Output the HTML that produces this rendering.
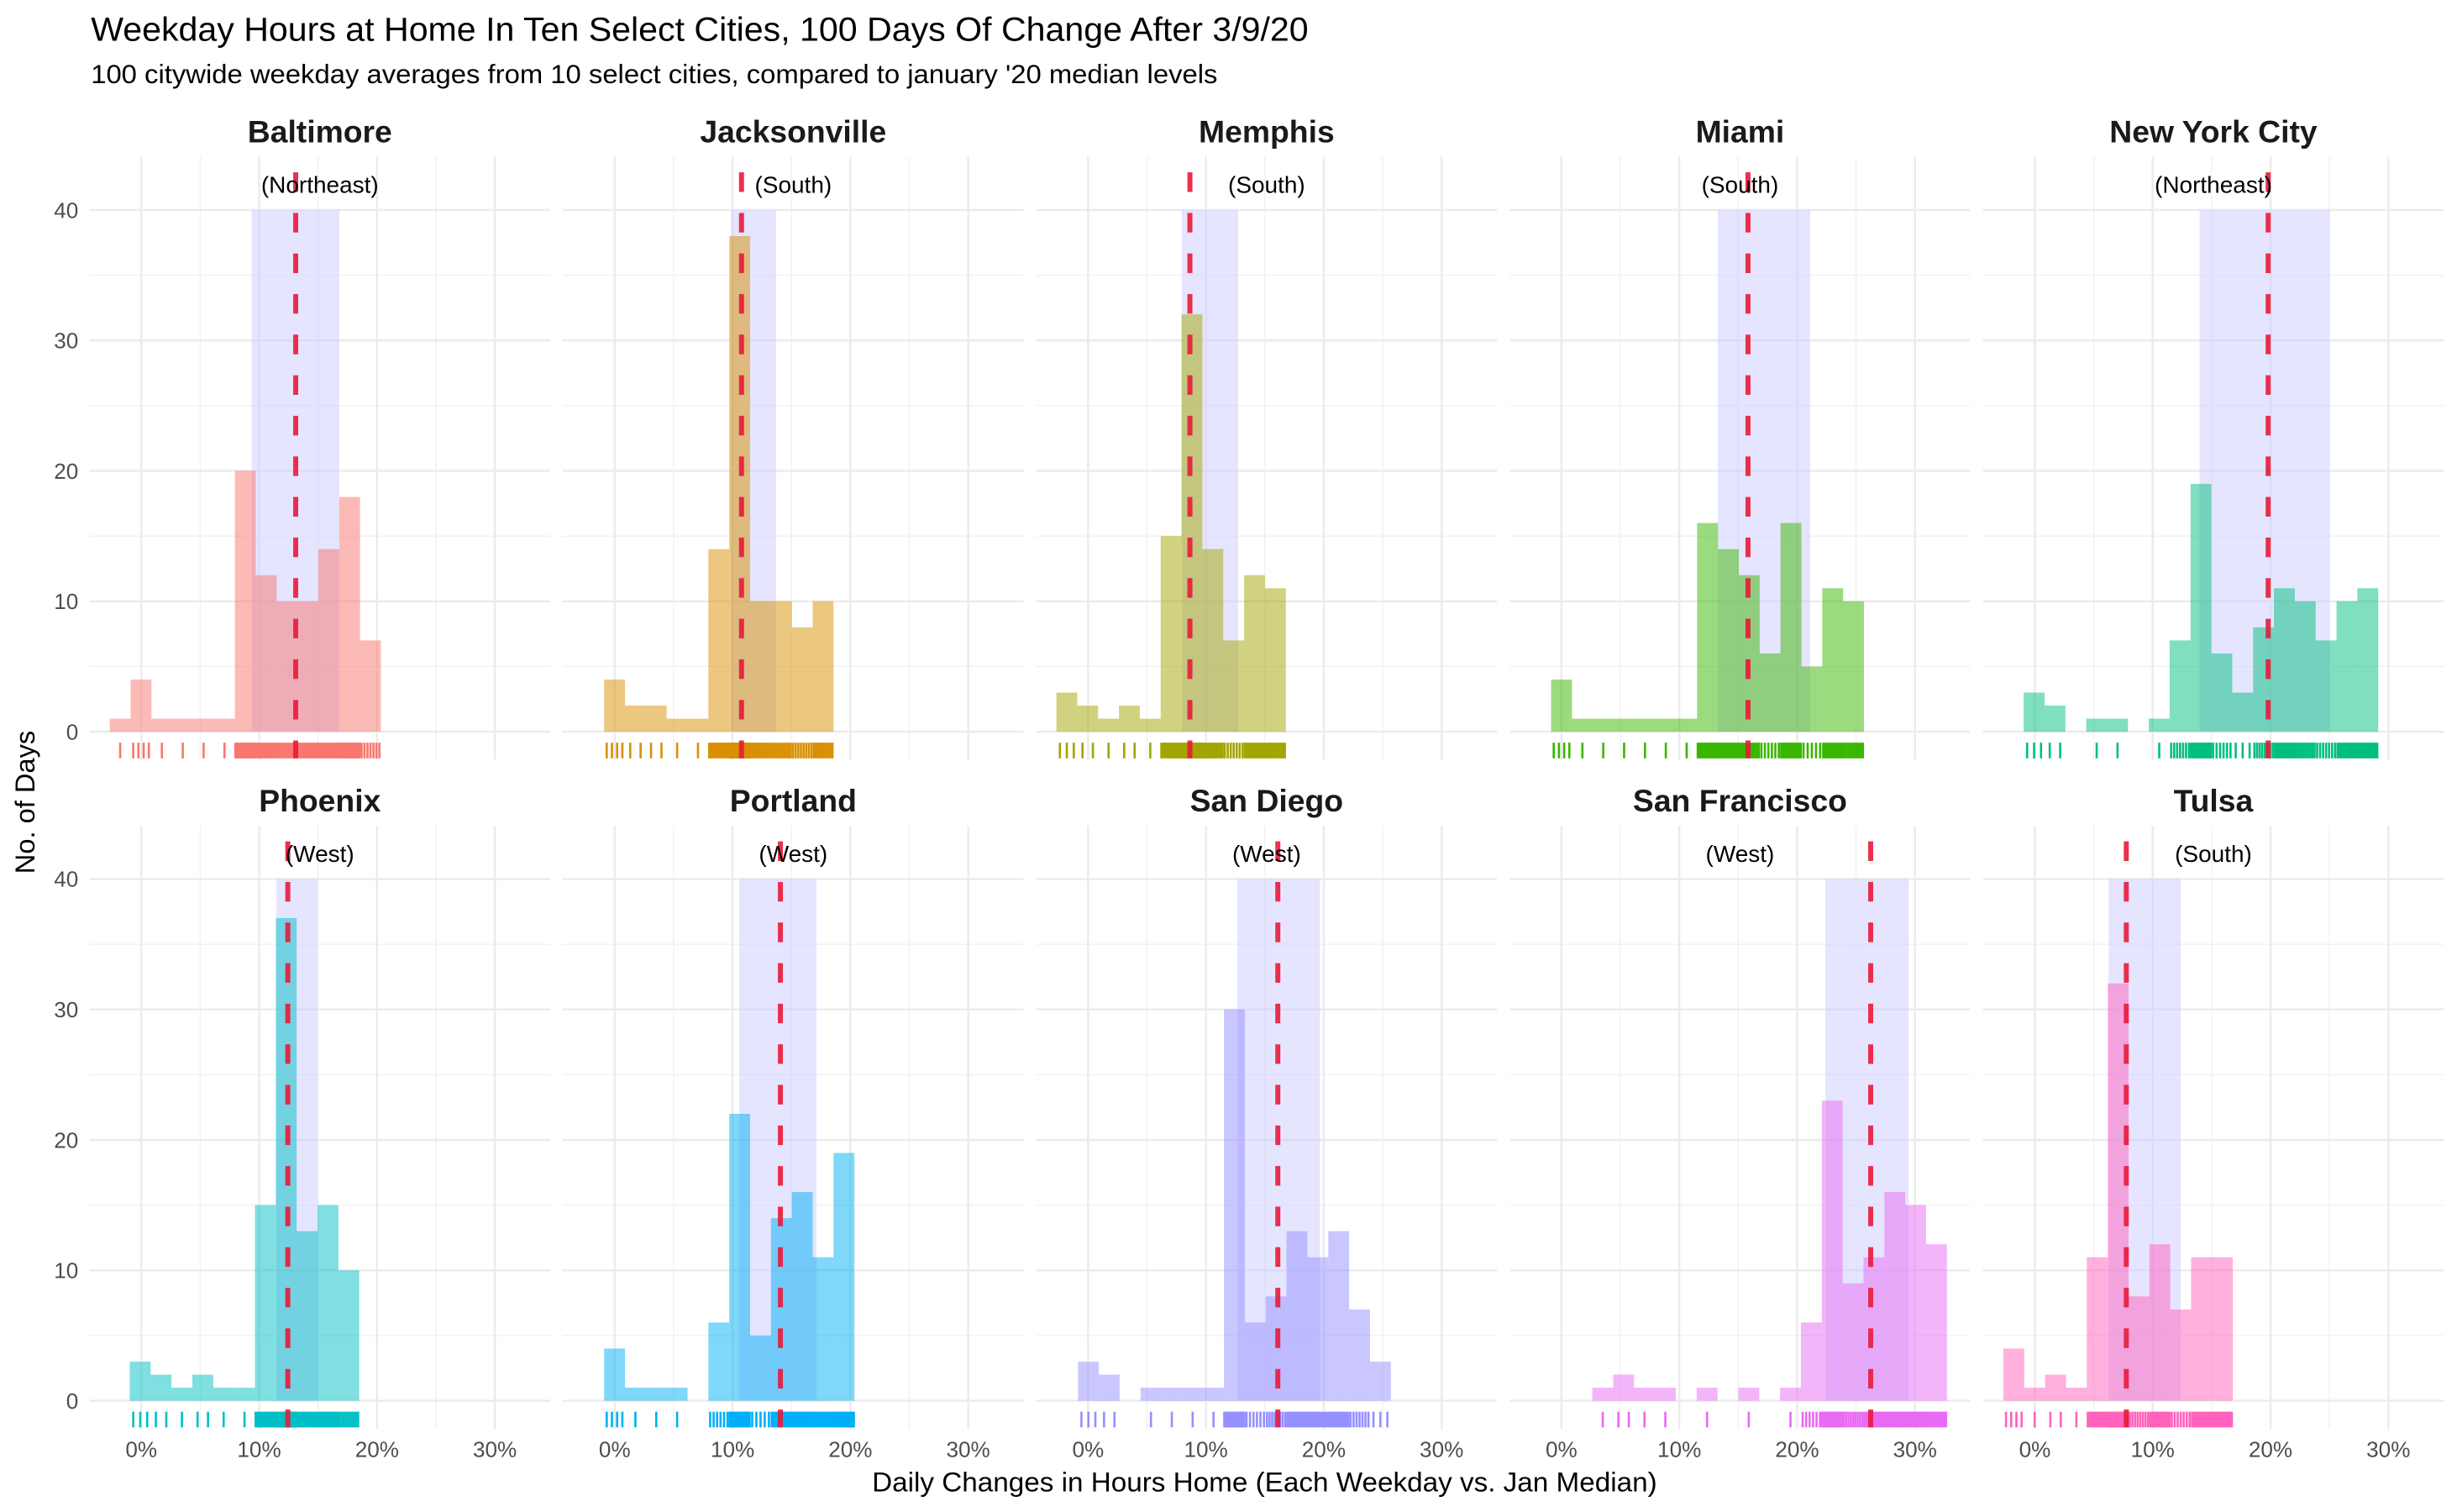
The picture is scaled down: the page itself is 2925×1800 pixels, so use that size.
<!DOCTYPE html>
<html><head><meta charset="utf-8"><style>
html,body{margin:0;padding:0;background:#fff;}
svg{display:block;font-family:"Liberation Sans",Arial,sans-serif;}
</style></head><body>
<svg id="chart" width="2925" height="1800" viewBox="0 0 1568 965" preserveAspectRatio="none" xmlns="http://www.w3.org/2000/svg">
<rect x="0" y="0" width="1568" height="965" fill="#ffffff"/>
<text x="58" y="26" font-size="21.5" fill="#000" textLength="777" lengthAdjust="spacingAndGlyphs">Weekday Hours at Home In Ten Select Cities, 100 Days Of Change After 3/9/20</text>
<text x="58" y="53" font-size="17" fill="#000" textLength="719" lengthAdjust="spacingAndGlyphs">100 citywide weekday averages from 10 select cities, compared to january '20 median levels</text>
<text transform="translate(22,512) rotate(-90)" text-anchor="middle" font-size="17.5" fill="#000">No. of Days</text>
<text x="807" y="952" text-anchor="middle" font-size="17.5" fill="#000" textLength="501" lengthAdjust="spacingAndGlyphs">Daily Changes in Hours Home (Each Weekday vs. Jan Median)</text>
<g id="panels"></g>
</svg>
<script>
const cities = ["Baltimore","Jacksonville","Memphis","Miami","New York City","Phoenix","Portland","San Diego","San Francisco","Tulsa"];
const regions = ["(Northeast)","(South)","(South)","(South)","(Northeast)","(West)","(West)","(West)","(West)","(South)"];
const colors = ["#F8766D","#D89000","#A3A500","#39B600","#00BF7D","#00BFC4","#00B0F6","#9590FF","#E76BF3","#FF62BC"];
const binStarts = [-2.68,-0.9,-2.69,-0.88,-0.95,-0.98,-0.9,-0.86,2.62,-2.67];
const binWidth = 1.77;
const countsBaltimore = [1,4,1,1,1,1,20,12,10,10,14,18,7];
const countsJacksonville = [4,2,2,1,1,14,38,10,10,8,10];
const countsMemphis = [3,2,1,2,1,15,32,14,7,12,11];
const countsMiami = [4,1,1,1,1,1,1,16,14,12,6,16,5,11,10];
const countsNYC = [3,2,0,1,1,0,1,7,19,6,3,8,11,10,7,10,11];
const countsPhoenix = [3,2,1,2,1,1,15,37,13,15,10];
const countsPortland = [4,1,1,1,0,6,22,5,14,16,11,19];
const countsSanDiego = [3,2,0,1,1,1,1,30,6,8,13,11,13,7,3];
const countsSanFrancisco = [1,2,1,1,0,1,0,1,0,1,6,23,9,11,16,15,12];
const countsTulsa = [4,1,2,1,11,32,8,12,7,11,11];
const counts = [countsBaltimore,countsJacksonville,countsMemphis,countsMiami,countsNYC,countsPhoenix,countsPortland,countsSanDiego,countsSanFrancisco,countsTulsa];
const medians = [13.1,10.76,8.64,15.83,19.8,12.43,14.06,16.1,26.24,7.76];
const bandLo = [9.36,9.86,7.95,13.26,13.98,11.45,10.57,12.68,22.4,6.26];
const bandHi = [16.79,13.7,12.74,21.1,25.0,14.98,17.13,19.67,29.45,12.38];
const bandTop = 40;
const xTicks = [0,10,20,30];
const xTickLabels = ["0%","10%","20%","30%"];
const yTicks = [0,10,20,30,40];
const yTickLabels = ["0","10","20","30","40"];

const NS = "http://www.w3.org/2000/svg";
const root = document.getElementById("panels");
const X_MIN = -4.4, X_MAX = 34.7;
const PX_PER_PCT = 7.52;
function mk(tag, attrs, parent){ const e=document.createElementNS(NS,tag); for(const k in attrs) e.setAttribute(k,attrs[k]); parent.appendChild(e); return e; }

for (let i=0;i<10;i++){
  const col=i%5, row=Math.floor(i/5);
  const zeroX = 90.2 + 302.1*col;
  const zeroY = row===0 ? 467 : 894;
  const pxDay = 8.325;
  const xs = v => zeroX + v*PX_PER_PCT;
  const ys = v => zeroY - v*pxDay;
  const left = xs(X_MIN), right = xs(X_MAX);
  const top = zeroY - 367, bottom = zeroY + 18;

  const g = mk("g",{},root);
  
  

  for (let v=5; v<=35; v+=10){ if (xs(v)<right) { const l=mk("line",{x1:xs(v),x2:xs(v),y1:top,y2:bottom,stroke:"#f0f0f0","stroke-width":0.7},g);
    
     } }
  for (let v=5; v<=35; v+=10){ const l=mk("line",{x1:left,x2:right,y1:ys(v),y2:ys(v),stroke:"#f0f0f0","stroke-width":0.7},g);
    
     }
  xTicks.forEach(v=>{ const l=mk("line",{x1:xs(v),x2:xs(v),y1:top,y2:bottom,stroke:"#ebebeb","stroke-width":1.3},g);
    
     });
  yTicks.forEach(v=>{ const l=mk("line",{x1:left,x2:right,y1:ys(v),y2:ys(v),stroke:"#ebebeb","stroke-width":1.3},g);
    
     });

  const band = mk("rect",{x:xs(bandLo[i]),y:ys(bandTop),width:xs(bandHi[i])-xs(bandLo[i]),height:ys(0)-ys(bandTop),fill:"#ccccff","fill-opacity":0.5},g);
  
  

  counts[i].forEach((c,k)=>{
    if(c<=0) return;
    const x0 = binStarts[i]+k*binWidth;
    const r = mk("rect",{x:xs(x0),y:ys(c),width:xs(x0+binWidth)-xs(x0),height:ys(0)-ys(c),fill:colors[i],"fill-opacity":0.5},g);
    
    
  });

  counts[i].forEach((c,k)=>{
    const x0 = binStarts[i]+k*binWidth;
    for (let j=0;j<c;j++){
      const v = x0 + binWidth*(j+0.5)/c;
      const t = mk("line",{x1:xs(v),x2:xs(v),y1:zeroY+7,y2:zeroY+17,stroke:colors[i],"stroke-width":1.4},g);
      
      
    }
  });

  const m = mk("line",{x1:xs(medians[i]),x2:xs(medians[i]),y1:zeroY-357,y2:zeroY+17,stroke:"#e8193a","stroke-opacity":0.9,"stroke-width":3.2,"stroke-dasharray":"12.5 13.4"},g);
  
  

  const st = mk("text",{x:(left+right)/2,y:zeroY-376,"text-anchor":"middle","font-size":20,"font-weight":"bold",fill:"#1a1a1a"},g);
  st.textContent = cities[i];
  
  

  const rl = mk("text",{x:(left+right)/2,y:zeroY-344,"text-anchor":"middle","font-size":15,fill:"#000"},g);
  rl.textContent = regions[i];
  
  

  if (col===0){
    yTicks.forEach((v,k)=>{
      const t = mk("text",{x:50,y:ys(v)+5,"text-anchor":"end","font-size":14,fill:"#4d4d4d"},g);
      t.textContent = yTickLabels[k];
      
      
    });
  }
  if (row===1){
    xTicks.forEach((v,k)=>{
      const t = mk("text",{x:xs(v),y:930,"text-anchor":"middle","font-size":14,fill:"#4d4d4d"},g);
      t.textContent = xTickLabels[k];
      
      
    });
  }
}
</script>
</body></html>
